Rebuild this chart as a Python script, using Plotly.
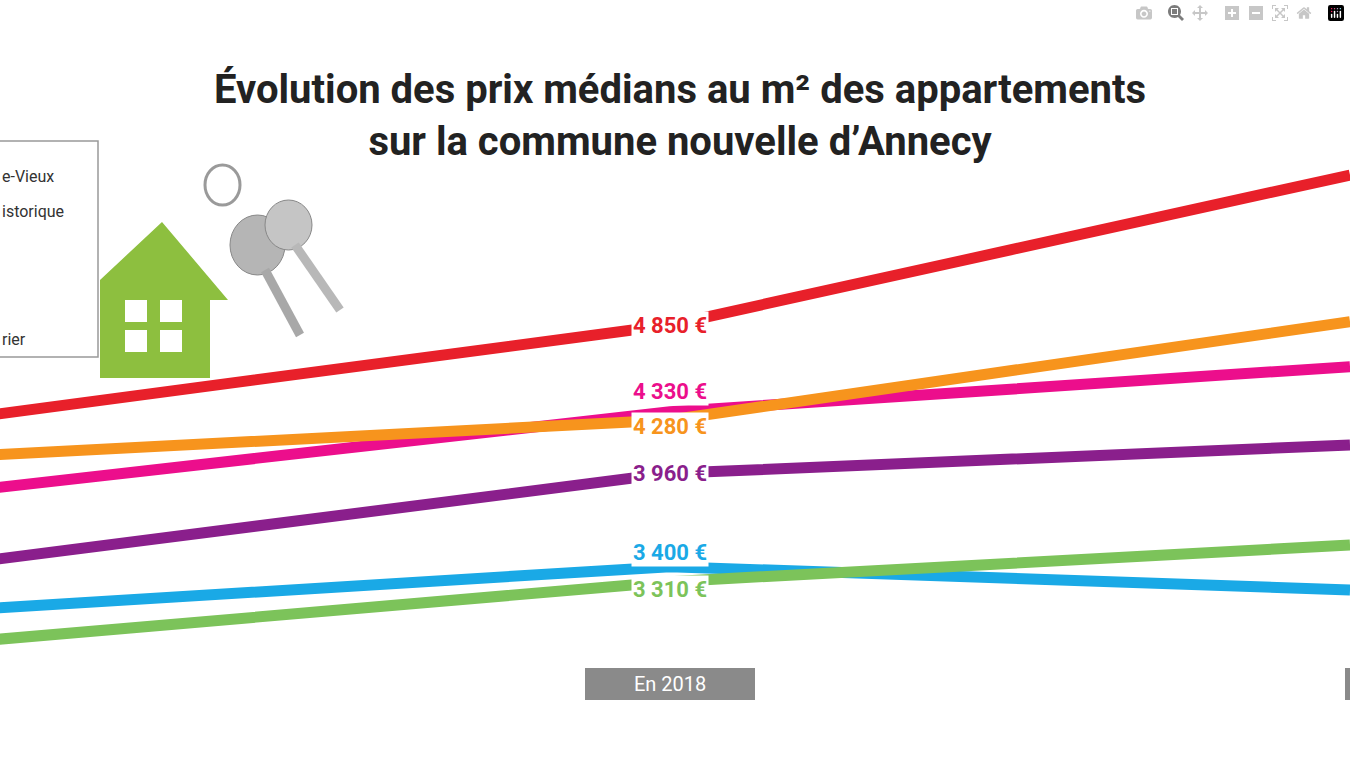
import plotly.graph_objects as go

years = [2017, 2018, 2019]
series_names = ["Annecy-le-Vieux", "Centre historique", "Annecy", "Seynod", "Cran-Gevrier", "Meythet"]
colors = ["#e8202a", "#ec0e8c", "#f7941d", "#8a1f8c", "#1aa9e6", "#7cc35a"]
red = [4310, 4850, 5750]
pink = [3870, 4330, 4600]
orange = [4070, 4280, 4870]
purple = [3440, 3960, 4130]
blue = [3150, 3400, 3260]
green = [2960, 3310, 3530]
values = [red, pink, orange, purple, blue, green]
labels_2018 = ["4 850 €", "4 330 €", "4 280 €", "3 960 €", "3 400 €", "3 310 €"]
label_shift = [0, 20, -6, 0, 14, -8]

W, H = 1350, 759
def py(p): return 1 - p / H
def px(p): return p / W

fig = go.Figure()
for name, vals, c in zip(series_names, values, colors):
    fig.add_trace(go.Scatter(x=years, y=vals, mode="lines", name=name,
                             line=dict(color=c, width=11), showlegend=False))
for vals, lab, c, s in zip(values, labels_2018, colors, label_shift):
    fig.add_annotation(x=2018, y=vals[1], text="<b>" + lab + "</b>", showarrow=False, yshift=s,
                       font=dict(size=22, color=c, family="Roboto"),
                       bgcolor="white", borderpad=1)

shapes = [
    dict(type="rect", xref="paper", yref="paper", x0=px(-5), x1=px(98), y0=py(357), y1=py(141),
         line=dict(color="#999999", width=1.5), fillcolor="white", layer="below"),
    dict(type="rect", xref="paper", yref="paper", x0=px(585), x1=px(755), y0=py(700), y1=py(668),
         line=dict(width=0), fillcolor="#8a8a8a"),
    dict(type="rect", xref="paper", yref="paper", x0=px(1345), x1=px(1352), y0=py(700), y1=py(668),
         line=dict(width=0), fillcolor="#8a8a8a"),
    dict(type="path", xref="paper", yref="paper",
         path=f"M {px(100)},{py(378)} L {px(100)},{py(280)} L {px(162)},{py(222)} L {px(228)},{py(300)} L {px(210)},{py(300)} L {px(210)},{py(378)} Z",
         fillcolor="#8dbf3f", line=dict(width=0)),
]
for (x0, y0) in [(125, 300), (160, 300), (125, 330), (160, 330)]:
    shapes.append(dict(type="rect", xref="paper", yref="paper", x0=px(x0), x1=px(x0 + 22),
                       y0=py(y0 + 22), y1=py(y0), fillcolor="white", line=dict(width=0)))
shapes += [
    dict(type="circle", xref="paper", yref="paper", x0=px(205), x1=px(240), y0=py(205), y1=py(165),
         line=dict(color="#9a9a9a", width=3)),
    dict(type="circle", xref="paper", yref="paper", x0=px(230), x1=px(285), y0=py(275), y1=py(215),
         fillcolor="#b5b5b5", line=dict(color="#888", width=1)),
    dict(type="circle", xref="paper", yref="paper", x0=px(265), x1=px(312), y0=py(250), y1=py(200),
         fillcolor="#c5c5c5", line=dict(color="#888", width=1)),
    dict(type="line", xref="paper", yref="paper", x0=px(265), x1=px(300), y0=py(270), y1=py(335),
         line=dict(color="#a8a8a8", width=9)),
    dict(type="line", xref="paper", yref="paper", x0=px(295), x1=px(340), y0=py(245), y1=py(310),
         line=dict(color="#b8b8b8", width=9)),
]

ann_small = [("e-Vieux", 165), ("istorique", 200), ("rier", 340)]
for t, y in ann_small:
    fig.add_annotation(xref="paper", yref="paper", x=0, y=py(y), text=t, showarrow=False,
                       xanchor="left", font=dict(size=16, color="#333", family="Roboto"))
fig.add_annotation(xref="paper", yref="paper", x=px(670), y=py(684), yanchor="middle",
                   text="En 2018", showarrow=False,
                   font=dict(size=20, color="white", family="Roboto"))
fig.add_annotation(xref="paper", yref="paper", x=px(680), y=py(116), yanchor="middle",
                   text="<b>Évolution des prix médians au m² des appartements<br>sur la commune nouvelle d’Annecy</b>",
                   showarrow=False, align="center",
                   font=dict(size=40, color="#222", family="Roboto"))

fig.update_layout(width=W, height=H, margin=dict(l=0, r=0, t=0, b=0, pad=0),
                  paper_bgcolor="white", plot_bgcolor="white", shapes=shapes,
                  xaxis=dict(range=[2018 - 670 / 680, 2018 + 680 / 680], visible=False),
                  yaxis=dict(range=[4850 - 434 * 6, 4850 + 325 * 6], visible=False))
fig.write_html("out.html", post_script="document.body.style.margin='0';")
